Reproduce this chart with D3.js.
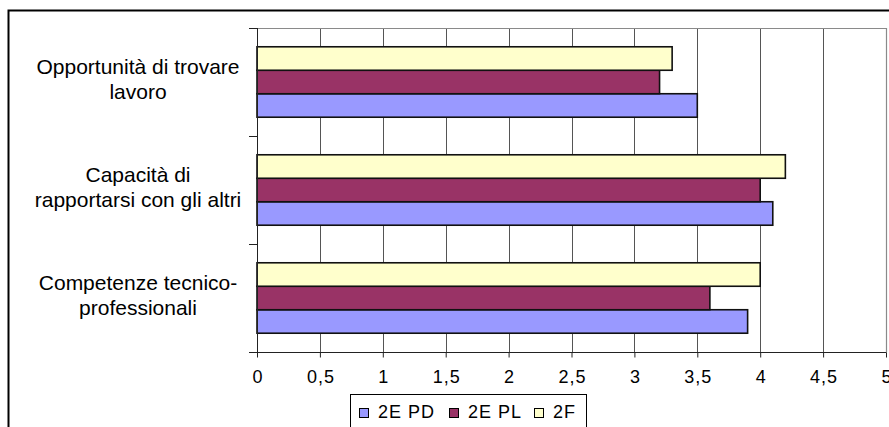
<!DOCTYPE html>
<html>
<head>
<meta charset="utf-8">
<script src="https://cdn.jsdelivr.net/npm/d3@7"></script>
<style>
  html, body { margin: 0; padding: 0; background: #fff; }
  svg { display: block; font-family: "Liberation Sans", Arial, sans-serif; }
</style>
</head>
<body>
<svg id="chart" width="889" height="427"></svg>
<script>
// Category labels, one entry per line of wrapped text (top to bottom)
const categories = [
  ["Opportunità di trovare", "lavoro"],
  ["Capacità di", "rapportarsi con gli altri"],
  ["Competenze tecnico-", "professionali"]
];
const categoryKeys = ["opp", "cap", "comp"];

// Series (legend order)
const seriesNames = ["2E PD", "2E PL", "2F"];
const seriesColors = ["#9999FF", "#993366", "#FFFFCC"];

// Values per series, in category order
const values2EPD = [3.5, 4.1, 3.9];
const values2EPL = [3.2, 4.0, 3.6];
const values2F   = [3.3, 4.2, 4.0];

// Axis ticks
const xTicks = [0, 0.5, 1, 1.5, 2, 2.5, 3, 3.5, 4, 4.5, 5];

const seriesValues = [values2EPD, values2EPL, values2F];

const svg = d3.select("#chart");

// Outer chart frame
svg.append("rect")
  .attr("x", 8.5).attr("y", 10.5)
  .attr("width", 900).attr("height", 440)
  .attr("fill", "#fff").attr("stroke", "#000").attr("stroke-width", 2);

const plot = { left: 257, right: 886, top: 28, bottom: 352 };

const x = d3.scaleLinear().domain([0, 5]).range([plot.left, plot.right]);
const y = d3.scaleBand().domain(categoryKeys).range([plot.top, plot.bottom]).padding(0);
// Within a category, 2F is on top and 2E PD at the bottom
const yInner = d3.scaleBand()
  .domain(["2F", "2E PL", "2E PD"])
  .range([0, y.bandwidth()])
  .paddingInner(0).paddingOuter(0.8);

// Vertical gridlines
svg.append("g")
  .selectAll("line")
  .data(xTicks.filter(t => t > 0 && t < 5))
  .join("line")
  .attr("x1", d => Math.round(x(d)) + 0.5).attr("x2", d => Math.round(x(d)) + 0.5)
  .attr("y1", plot.top).attr("y2", plot.bottom)
  .attr("stroke", "#555").attr("stroke-width", 1);

// Plot area border (top and right)
svg.append("path")
  .attr("d", `M${plot.left},${plot.top + 0.5}H${plot.right + 0.5}V${plot.bottom}`)
  .attr("fill", "none").attr("stroke", "#8a8a8a").attr("stroke-width", 1.2);

// Bars
const rows = [];
categoryKeys.forEach((k, ci) => {
  seriesNames.forEach((s, si) => {
    rows.push({ cat: k, series: s, value: seriesValues[si][ci], color: seriesColors[si] });
  });
});

svg.append("g")
  .selectAll("rect")
  .data(rows)
  .join("rect")
  .attr("x", x(0))
  .attr("y", d => y(d.cat) + yInner(d.series))
  .attr("width", d => x(d.value) - x(0))
  .attr("height", yInner.bandwidth())
  .attr("fill", d => d.color)
  .attr("stroke", "#111")
  .attr("stroke-width", 1.6);

// X axis
const xAxis = d3.axisBottom(x)
  .tickValues(xTicks)
  .tickSize(5)
  .tickPadding(13)
  .tickFormat(d => String(d).replace(".", ","));

const gx = svg.append("g")
  .attr("transform", `translate(0,${plot.bottom + 0.5})`)
  .call(xAxis);
gx.select(".domain").remove();
gx.selectAll(".tick line").attr("stroke", "#222");
gx.selectAll(".tick text")
  .attr("fill", "#000")
  .attr("dx", "0.5")
  .style("font-size", "18px")
  .style("letter-spacing", "1px")
  .style("font-family", "'Liberation Sans', Arial, sans-serif");
svg.append("line")
  .attr("x1", plot.left - 8).attr("x2", plot.right + 0.5)
  .attr("y1", plot.bottom + 0.5).attr("y2", plot.bottom + 0.5)
  .attr("stroke", "#222");

// Y axis line with ticks on category boundaries
svg.append("line")
  .attr("x1", plot.left + 0.5).attr("x2", plot.left + 0.5)
  .attr("y1", plot.top).attr("y2", plot.bottom + 0.5)
  .attr("stroke", "#222");
svg.append("g")
  .selectAll("line")
  .data(categoryKeys)
  .join("line")
  .attr("x1", plot.left - 8).attr("x2", plot.left)
  .attr("y1", d => Math.round(y(d)) + 0.5).attr("y2", d => Math.round(y(d)) + 0.5)
  .attr("stroke", "#222");

// Category labels (two centred lines each)
const labelG = svg.append("g")
  .selectAll("text")
  .data(categoryKeys)
  .join("text")
  .attr("text-anchor", "middle")
  .style("font-size", "21px")
  .attr("fill", "#000");
labelG.each(function(k, i) {
  const cy = y(k) + y.bandwidth() / 2;
  d3.select(this).selectAll("tspan")
    .data(categories[i])
    .join("tspan")
    .attr("x", 138)
    .attr("y", (d, j) => cy - 8 + j * 25)
    .text(d => d);
});

// Legend
const legend = svg.append("g");
legend.append("rect")
  .attr("x", 350.5).attr("y", 394.5)
  .attr("width", 236).attr("height", 60)
  .attr("fill", "#fff").attr("stroke", "#000").attr("stroke-width", 1);
const legendX = [359, 449, 534];
const items = legend.selectAll("g.item")
  .data(seriesNames)
  .join("g")
  .attr("class", "item")
  .attr("transform", (d, i) => `translate(${legendX[i]},0)`);
items.append("rect")
  .attr("x", 0.5).attr("y", 408.5)
  .attr("width", 9).attr("height", 9)
  .attr("fill", (d, i) => seriesColors[i])
  .attr("stroke", "#000");
items.append("text")
  .attr("x", 19).attr("y", 418)
  .style("font-size", "18px")
  .style("letter-spacing", "1px")
  .attr("fill", "#000")
  .text(d => d);
</script>
</body>
</html>
